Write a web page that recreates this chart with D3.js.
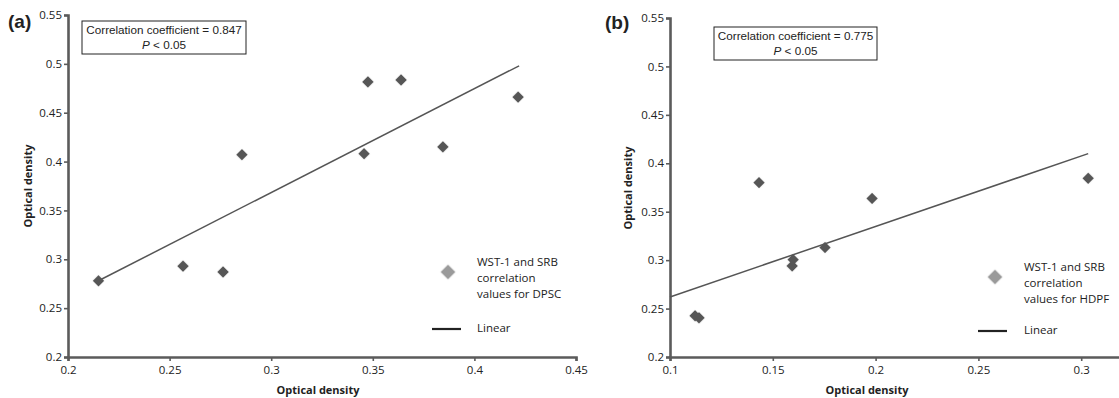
<!DOCTYPE html>
<html>
<head>
<meta charset="utf-8">
<script src="https://cdn.jsdelivr.net/npm/d3@7"></script>
<style>
  body { margin: 0; background: #fff; }
  svg { display: block; }
</style>
</head>
<body>
<svg id="chart" width="1119" height="398"></svg>
<script>
// values (optical density, WST-1 vs SRB)
const dpscX = [0.215, 0.2566, 0.2763, 0.2856, 0.3457, 0.3476, 0.3639, 0.3845, 0.4215]
const dpscY = [0.278, 0.293, 0.287, 0.407, 0.408, 0.4815, 0.4835, 0.415, 0.466]
const hdpfX = [0.1122, 0.1141, 0.1433, 0.1594, 0.1599, 0.1754, 0.1983, 0.3034]
const hdpfY = [0.2425, 0.2404, 0.380, 0.294, 0.3005, 0.313, 0.3637, 0.3845]

// linear trend line end points
const dpscTrend = [[0.215, 0.278], [0.422, 0.498]]
const hdpfTrend = [[0.1, 0.262], [0.3034, 0.410]]

const ticksY = [0.2, 0.25, 0.3, 0.35, 0.4, 0.45, 0.5, 0.55]
const dpscTicksX = [0.2, 0.25, 0.3, 0.35, 0.4, 0.45]
const hdpfTicksX = [0.1, 0.15, 0.2, 0.25, 0.3]

const svg = d3.select("#chart")
svg.append("rect").attr("width", 1119).attr("height", 398).attr("fill", "#fff")

const defs = svg.append("defs")
defs.append("filter").attr("id", "soft")
  .attr("x", "-50%").attr("y", "-50%").attr("width", "200%").attr("height", "200%")
  .append("feGaussianBlur").attr("stdDeviation", 0.7)

const panels = [
  {
    letter: "(a)", letterX: 8, letterY: 28,
    xs: dpscX, ys: dpscY, trend: dpscTrend, ticksX: dpscTicksX,
    xDomain: [0.2, 0.45], xRange: [68, 576], yRange: [357, 15],
    coef: "Correlation coefficient = 0.847",
    box: { x: 82, y: 21, w: 164, h: 33 },
    legendName: ["WST-1 and SRB", "correlation", "values for DPSC"],
    legend: { x: 448, y: 262, lineX: 432, lineY: 329 },
    xTitle: 318, yTitleX: 28, yTitleY: 186
  },
  {
    letter: "(b)", letterX: 605, letterY: 29,
    xs: hdpfX, ys: hdpfY, trend: hdpfTrend, ticksX: hdpfTicksX,
    xDomain: [0.1, 0.35], xRange: [670, 1184], yRange: [357, 18],
    coef: "Correlation coefficient = 0.775",
    box: { x: 714, y: 27, w: 163, h: 33 },
    legendName: ["WST-1 and SRB", "correlation", "values for HDPF"],
    legend: { x: 995, y: 267, lineX: 978, lineY: 331 },
    xTitle: 867, yTitleX: 628, yTitleY: 188
  }
]

panels.forEach(p => drawPanel(p))

function drawPanel(p) {
  const x = d3.scaleLinear().domain(p.xDomain).range(p.xRange)
  const y = d3.scaleLinear().domain([0.2, 0.55]).range(p.yRange)
  const g = svg.append("g")

  // axes
  const ax = g.append("g")
    .attr("transform", "translate(0," + p.yRange[0] + ")")
    .call(d3.axisBottom(x).tickValues(p.ticksX).tickFormat(d => d).tickSizeOuter(0).tickSize(4).tickPadding(5))
  const ay = g.append("g")
    .attr("transform", "translate(" + p.xRange[0] + ",0)")
    .call(d3.axisLeft(y).tickValues(ticksY).tickFormat(d => d).tickSizeOuter(0).tickSize(4).tickPadding(2))

  ;[ax, ay].forEach(a => {
    a.select(".domain").attr("stroke", "#5b5b5b").attr("stroke-width", 2.6)
    a.selectAll(".tick line").attr("stroke", "#5b5b5b").attr("stroke-width", 1.6)
    a.selectAll(".tick text")
      .attr("fill", "#222")
      .style("font-family", "'Open Sans', sans-serif")
      .style("font-size", "11.5px")
  })

  // trend line
  g.append("path")
    .datum(p.trend)
    .attr("d", d3.line().x(d => x(d[0])).y(d => y(d[1])))
    .attr("fill", "none")
    .attr("stroke", "#555")
    .attr("stroke-width", 1.5)

  // points
  const diamond = d3.symbol().type(d3.symbolSquare).size(66)
  g.append("g").selectAll("path")
    .data(p.xs.map((v, i) => [v, p.ys[i]]))
    .join("path")
    .attr("d", diamond)
    .attr("transform", d => "translate(" + x(d[0]) + "," + y(d[1]) + ") rotate(45)")
    .attr("fill", "#565656")
    .attr("filter", "url(#soft)")

  // panel letter
  g.append("text")
    .attr("x", p.letterX).attr("y", p.letterY)
    .text(p.letter)
    .style("font-family", "'Liberation Sans', Arial, sans-serif")
    .style("font-weight", "bold")
    .style("font-size", "19px")
    .attr("fill", "#222")

  // correlation box
  g.append("rect")
    .attr("x", p.box.x).attr("y", p.box.y)
    .attr("width", p.box.w).attr("height", p.box.h)
    .attr("fill", "#fff").attr("stroke", "#222").attr("stroke-width", 1)
  const bx = p.box.x + p.box.w / 2
  const boxText = g.append("g")
    .style("font-family", "'Liberation Sans', Arial, sans-serif")
    .style("font-size", "11.7px")
    .attr("fill", "#222")
    .attr("text-anchor", "middle")
  boxText.append("text").attr("x", bx).attr("y", p.box.y + 13).text(p.coef)
  const pt = boxText.append("text").attr("x", bx).attr("y", p.box.y + 28)
  pt.append("tspan").style("font-style", "italic").text("P")
  pt.append("tspan").text(" < 0.05")

  // legend
  g.append("path")
    .attr("d", d3.symbol().type(d3.symbolSquare).size(110))
    .attr("transform", "translate(" + p.legend.x + "," + (p.legend.y + 10) + ") rotate(45)")
    .attr("fill", "#9a9a9a")
    .attr("filter", "url(#soft)")
  const leg = g.append("g")
    .style("font-family", "'Open Sans', sans-serif")
    .style("font-size", "11.5px")
    .attr("fill", "#222")
  leg.selectAll("text.name")
    .data(p.legendName)
    .join("text")
    .attr("class", "name")
    .attr("x", p.legend.x + 29)
    .attr("y", (d, i) => p.legend.y + 4 + i * 16)
    .text(d => d)
  g.append("line")
    .attr("x1", p.legend.lineX).attr("x2", p.legend.lineX + 29)
    .attr("y1", p.legend.lineY).attr("y2", p.legend.lineY)
    .attr("stroke", "#222").attr("stroke-width", 2.2)
  leg.append("text")
    .attr("x", p.legend.x + 29).attr("y", p.legend.lineY + 3)
    .text("Linear")

  // axis titles
  g.append("text")
    .attr("x", p.xTitle).attr("y", 394)
    .attr("text-anchor", "middle")
    .text("Optical density")
    .style("font-family", "'Open Sans', sans-serif")
    .style("font-weight", "bold")
    .style("font-size", "11px")
    .attr("fill", "#222")
  g.append("text")
    .attr("transform", "translate(" + (p.yTitleX + 4) + "," + p.yTitleY + ") rotate(-90)")
    .attr("text-anchor", "middle")
    .text("Optical density")
    .style("font-family", "'Open Sans', sans-serif")
    .style("font-weight", "bold")
    .style("font-size", "11px")
    .attr("fill", "#222")
}
</script>
</body>
</html>
